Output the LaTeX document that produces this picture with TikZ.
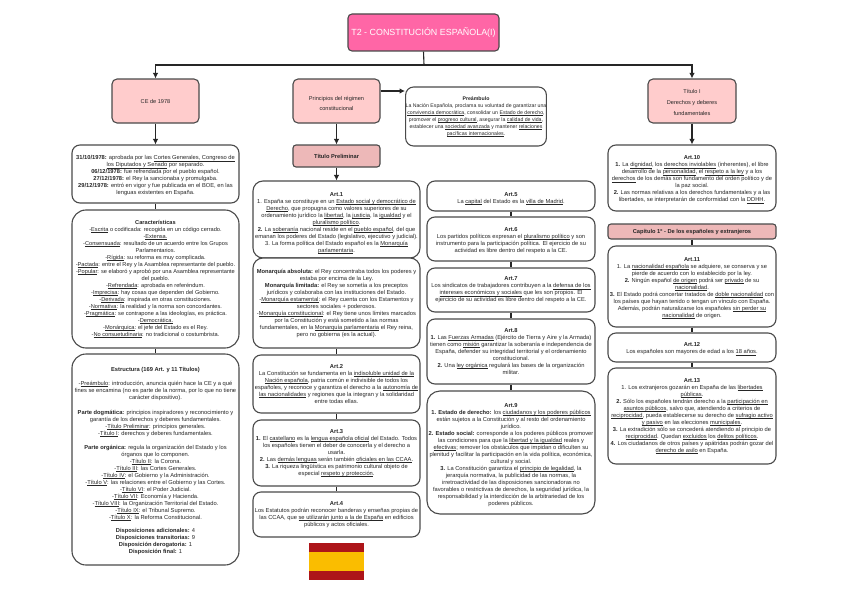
\documentclass[tikz,border=0pt]{standalone}
\usepackage{fontspec}
\setmainfont{Liberation Sans}
\usetikzlibrary{arrows.meta}
\definecolor{edgec}{HTML}{4A4A4A}
\definecolor{pinkbox}{HTML}{FFCCCC}
\definecolor{rosebox}{HTML}{EDB8B8}
\definecolor{hotpink}{HTML}{FF66A6}
\definecolor{flagred}{HTML}{AD1519}
\definecolor{flagyel}{HTML}{FABD00}
\newsavebox{\ulbox}
\newcommand{\Ul}[1]{\leavevmode\sbox{\ulbox}{#1}\rlap{\rule[-1.3pt]{\wd\ulbox}{0.5pt}}\usebox{\ulbox}}
% a tall strut on a first line moves the whole centred text down
\newcommand{\Dn}[1]{\rule{0pt}{\dimexpr 5pt+#1pt*2\relax}}
\tikzset{
  base/.style={draw=edgec,line width=1.1pt,align=center,inner sep=0pt,text=black!85},
  tbox/.style={base,fill=white,rounded corners=8pt,font=\fontsize{5.75}{7}\selectfont},
  pbox/.style={base,fill=pinkbox,rounded corners=5pt,font=\fontsize{5.6}{11}\selectfont},
  rbox/.style={base,fill=rosebox,rounded corners=3pt,font=\bfseries\fontsize{5.7}{7}\selectfont},
  ttl/.style={base,fill=hotpink,rounded corners=4pt,text=white,font=\fontsize{8.9}{10}\selectfont},
  arr/.style={draw=black!85,line width=1.1pt,-{Latex[length=5.5pt,width=5.5pt]}},
  lnk/.style={draw=black!85,line width=1.1pt}
}
\begin{document}
\begin{tikzpicture}[x=1pt,y=-1pt]
\useasboundingbox (0,0) rectangle (848,602);
\fill[white] (0,0) rectangle (848,602);
% title
\node[ttl,minimum width=151pt,minimum height=37pt] (title) at (423.5,32.5) {T2 - CONSTITUCIÓN ESPAÑOLA(I)};
\coordinate (trunk) at (424,65);
\coordinate (tl) at (155.5,65);
\coordinate (tr) at (692,65);
% left
\node[pbox,minimum width=87pt,minimum height=44pt] (ce) at (155.5,101) {CE de 1978};
\node[tbox,minimum width=167pt,minimum height=58pt] (fechas) at (155.5,174) {\Dn{1.5}\textbf{31/10/1978:} aprobada por las \Ul{Cortes Generales, Congreso de}\\\Ul{los Diputados y Senado} por separado.\\\textbf{06/12/1978:} fue refrendada por el pueblo español.\\\textbf{27/12/1978:} el Rey la sancionaba y promulgaba.\\\textbf{29/12/1978:} entró en vigor y fue publicada en el BOE, en las\\lenguas existentes en España.};
\node[tbox,rounded corners=14pt,minimum width=167pt,minimum height=138pt,font=\fontsize{5.65}{7}\selectfont] (carac) at (155.5,279) {\textbf{Características}\\-\Ul{Escrita} o codificada: recogida en un código cerrado.\\-\Ul{Extensa.}\\-\Ul{Consensuada}: resultado de un acuerdo entre los Grupos\\Parlamentarios.\\-\Ul{Rígida}: su reforma es muy complicada.\\-\Ul{Pactada}: entre el Rey y la Asamblea representante del pueblo.\\-\Ul{Popular}: se elaboró y aprobó por una Asamblea representante\\del pueblo.\\-\Ul{Refrendada}: aprobada en referéndum.\\-\Ul{Imprecisa}: hay cosas que dependen del Gobierno.\\-\Ul{Derivada}: inspirada en otras constituciones.\\-\Ul{Normativa}: la realidad y la norma son concordantes.\\-\Ul{Pragmática}: se contrapone a las ideologías, es práctica.\\-\Ul{Democrática.}\\-\Ul{Monárquica}: el jefe del Estado es el Rey.\\-\Ul{No consuetudinaria}: no tradicional o costumbrista.};
\node[tbox,rounded corners=14pt,minimum width=167pt,minimum height=211pt] (estr) at (155.5,459.5) {\Dn{1}\textbf{Estructura (169 Art. y 11 Títulos)}\\[6.5pt]-\Ul{Preámbulo}: introducción, anuncia quién hace la CE y a qué\\fines se encamina (no es parte de la norma, por lo que no tiene\\carácter dispositivo).\\[8pt]\textbf{Parte dogmática:} principios inspiradores y reconocimiento y\\garantía de los derechos y deberes fundamentales.\\-\Ul{Título Preliminar}: principios generales.\\-\Ul{Título I}: derechos y deberes fundamentales.\\[7pt]\textbf{Parte orgánica:} regula la organización del Estado y los\\órganos que lo componen.\\-\Ul{Título II}: la Corona.\\-\Ul{Título III}: las Cortes Generales.\\-\Ul{Título IV}: el Gobierno y la Administración.\\-\Ul{Título V}: las relaciones entre el Gobierno y las Cortes.\\-\Ul{Título VI}: el Poder Judicial.\\-\Ul{Título VII}: Economía y Hacienda.\\-\Ul{Título VIII}: la Organización Territorial del Estado.\\-\Ul{Título IX}: el Tribunal Supremo.\\-\Ul{Título X}: la Reforma Constitucional.\\[6pt]\textbf{Disposiciones adicionales:} 4\\\textbf{Disposiciones transitorias:} 9\\\textbf{Disposición derogatoria:} 1\\\textbf{Disposición final:} 1};
% centre-left
\node[pbox,minimum width=87pt,minimum height=44pt,font=\fontsize{5.6}{10}\selectfont] (princ) at (336.5,101) {\Dn{2}Principios del régimen\\constitucional};
\node[rbox,minimum width=87pt,minimum height=22pt] (tprel) at (336.5,156) {Título Preliminar};
\node[tbox,minimum width=140pt,minimum height=59pt,font=\fontsize{5.2}{6.9}\selectfont] (pream) at (476,116.5) {\textbf{Preámbulo}\\La Nación Española, proclama su voluntad de garantizar una\\\Ul{convivencia democrática}, consolidar un \Ul{Estado de derecho},\\promover el \Ul{progreso cultural}, asegurar la \Ul{calidad de vida},\\establecer una \Ul{sociedad avanzada} y mantener \Ul{relaciones}\\\Ul{pacíficas internacionales}.};
\node[tbox,minimum width=167pt,minimum height=77pt,rounded corners=10pt] (a1) at (336.5,219.5) {\Dn{3}\textbf{Art.1}\\1. España se constituye en un \Ul{Estado social y democrático de}\\\Ul{Derecho}, que propugna como valores superiores de su\\ordenamiento jurídico la \Ul{libertad}, la \Ul{justicia}, la \Ul{igualdad} y el\\\Ul{pluralismo político}.\\\textbf{2.} La \Ul{soberanía} nacional reside en el \Ul{pueblo español}, del que\\emanan los poderes del Estado (legislativo, ejecutivo y judicial).\\3. La forma política del Estado español es la \Ul{Monarquía}\\\Ul{parlamentaria}.};
\node[tbox,minimum width=167pt,minimum height=90pt,rounded corners=10pt] (mon) at (336.5,303) {\textbf{Monarquía absoluta:} el Rey concentraba todos los poderes y\\estaba por encima de la Ley.\\\textbf{Monarquía limitada:} el Rey se sometía a los preceptos\\jurídicos y colaboraba con las instituciones del Estado.\\-\Ul{Monarquía estamental}: el Rey cuenta con los Estamentos y\\sectores sociales + poderosos.\\-\Ul{Monarquía constitucional}: el Rey tiene unos límites marcados\\por la Constitución y está sometido a las normas\\fundamentales, en la \Ul{Monarquía parlamentaria} el Rey reina,\\pero no gobierna (es la actual).};
\node[tbox,minimum width=167pt,minimum height=58pt] (a2) at (336.5,384) {\textbf{Art.2}\\La Constitución se fundamenta en la \Ul{indisoluble unidad de la}\\\Ul{Nación española}, patria común e indivisible de todos los\\españoles, y reconoce y garantiza el derecho a la \Ul{autonomía de}\\\Ul{las nacionalidades} y regiones que la integran y la solidaridad\\entre todas ellas.};
\node[tbox,minimum width=167pt,minimum height=66pt] (a3) at (336.5,453) {\textbf{Art.3}\\\textbf{1.} El \Ul{castellano} es la \Ul{lengua española oficial} del Estado. Todos\\los españoles tienen el deber de conocerla y el derecho a\\usarla.\\\textbf{2.} Las \Ul{demás lenguas} serán también \Ul{oficiales en las CCAA}.\\\textbf{3.} La riqueza lingüística es patrimonio cultural objeto de\\especial \Ul{respeto y protección}.};
\node[tbox,minimum width=167pt,minimum height=45pt] (a4) at (336.5,514.5) {\textbf{Art.4}\\Los Estatutos podrán reconocer banderas y enseñas propias de\\las CCAA, que \Ul{se utilizarán junto a la de España} en edificios\\públicos y actos oficiales.};
% flag
\fill[flagred] (309,543) rectangle (364,580);
\fill[flagyel] (309,552) rectangle (364,571);
% centre-right
\node[tbox,minimum width=168pt,minimum height=30pt] (a5) at (511,196) {\Dn{2}\textbf{Art.5}\\La \Ul{capital} del Estado es la \Ul{villa de Madrid}.};
\node[tbox,minimum width=168pt,minimum height=44pt] (a6) at (511,239) {\Dn{1}\textbf{Art.6}\\Los partidos políticos expresan el \Ul{pluralismo político} y son\\instrumento para la participación política. El ejercicio de su\\actividad es libre dentro del respeto a la CE.};
\node[tbox,minimum width=168pt,minimum height=44pt] (a7) at (511,290) {\textbf{Art.7}\\Los sindicatos de trabajadores contribuyen a la \Ul{defensa de los}\\\Ul{intereses económicos y sociales} que les son propios. El\\ejercicio de su actividad es libre dentro del respeto a la CE.};
\node[tbox,minimum width=168pt,minimum height=65pt] (a8) at (511,351.5) {\textbf{Art.8}\\\textbf{1.} Las \Ul{Fuerzas Armadas} (Ejército de Tierra y Aire y la Armada)\\tienen como \Ul{misión} garantizar la soberanía e independencia de\\España, defender su integridad territorial y el ordenamiento\\constitucional.\\\textbf{2.} Una \Ul{ley orgánica} regulará las bases de la organización\\militar.};
\node[tbox,minimum width=168pt,minimum height=123pt,rounded corners=13pt] (a9) at (511,452.5) {\Dn{2}\textbf{Art.9}\\\textbf{1. Estado de derecho:} los \Ul{ciudadanos y los poderes públicos}\\están sujetos a la Constitución y al resto del ordenamiento\\jurídico.\\\textbf{2. Estado social:} corresponde a los poderes públicos promover\\las condiciones para que la \Ul{libertad y la igualdad} reales y\\\Ul{efectivas}; remover los obstáculos que impidan o dificulten su\\plenitud y facilitar la participación en la vida política, económica,\\cultural y social.\\\textbf{3.} La Constitución garantiza el \Ul{principio de legalidad}, la\\jerarquía normativa, la publicidad de las normas, la\\irretroactividad de las disposiciones sancionadoras no\\favorables o restrictivas de derechos, la seguridad jurídica, la\\responsabilidad y la interdicción de la arbitrariedad de los\\poderes públicos.};
% right
\node[pbox,minimum width=88pt,minimum height=44pt] (t1) at (692,101) {\Dn{1}Título I\\Derechos y deberes\\fundamentales};
\node[tbox,minimum width=168pt,minimum height=66pt] (a10) at (692,178) {\Dn{1}\textbf{Art.10}\\\textbf{1.} La \Ul{dignidad}, los \Ul{derechos inviolables} (inherentes), el libre\\desarrollo de la \Ul{personalidad}, el \Ul{respeto a la ley} y a los\\\Ul{derechos} de los demás son fundamento del orden político y de\\la paz social.\\\textbf{2.} Las normas relativas a los derechos fundamentales y a las\\libertades, se interpretarán de conformidad con la \Ul{DDHH}.};
\node[rbox,minimum width=168pt,minimum height=15pt] (cap) at (692,231.5) {Capítulo 1º - De los españoles y extranjeros};
\node[tbox,minimum width=168pt,minimum height=81pt] (a11) at (692,286.5) {\Dn{1}\textbf{Art.11}\\1. La \Ul{nacionalidad española} se adquiere, se conserva y se\\pierde de acuerdo con lo establecido por la ley.\\\textbf{2.} Ningún español \Ul{de origen} podrá ser \Ul{privado} de su\\\Ul{nacionalidad}.\\\textbf{3.} El Estado podrá concertar tratados de \Ul{doble nacionalidad} con\\los países que hayan tenido o tengan un vínculo con España.\\Además, podrán naturalizarse los españoles \Ul{sin perder su}\\\Ul{nacionalidad} de origen.};
\node[tbox,minimum width=168pt,minimum height=29pt] (a12) at (692,347.5) {\Dn{1}\textbf{Art.12}\\Los españoles son mayores de edad a los \Ul{18 años}.};
\node[tbox,minimum width=168pt,minimum height=96pt] (a13) at (692,416) {\textbf{Art.13}\\1. Los extranjeros gozarán en España de las \Ul{libertades}\\\Ul{públicas}.\\\textbf{2.} Sólo los españoles tendrán derecho a la \Ul{participación en}\\\Ul{asuntos públicos}, salvo que, atendiendo a criterios de\\\Ul{reciprocidad}, pueda establecerse su derecho de \Ul{sufragio activo}\\\Ul{y pasivo} en las elecciones \Ul{municipales}.\\\textbf{3.} La extradición sólo se concederá atendiendo al principio de\\\Ul{reciprocidad}. Quedan \Ul{excluidos} los \Ul{delitos políticos}.\\\textbf{4.} Los ciudadanos de otros países y apátridas podrán gozar del\\\Ul{derecho de asilo} en España.};
% connectors
\draw[lnk] (title.south) -- (trunk);
\draw[arr] (trunk) -- (tl) -- (ce.north);
\draw[arr] (trunk) -- (tr) -- (t1.north);
\draw[arr] (ce) -- (fechas);
\draw[lnk] (fechas) -- (carac);
\draw[lnk] (carac) -- (estr);
\draw[arr] (princ.east |- 0,91) -- (pream.west |- 0,91);
\draw[arr] (princ) -- (tprel);
\draw[arr] (tprel) -- (a1);
\draw[lnk] (mon) -- (a2);
\draw[lnk] (a2) -- (a3);
\draw[lnk] (a3) -- (a4);
\draw[lnk] (a5) -- (a6);
\draw[lnk] (a6) -- (a7);
\draw[lnk] (a7) -- (a8);
\draw[lnk] (a8) -- (a9);
\draw[arr] (t1) -- (a10);
\draw[lnk] (cap) -- (a11);
\draw[lnk] (a11) -- (a12);
\draw[lnk] (a12) -- (a13);
\end{tikzpicture}
\end{document}
